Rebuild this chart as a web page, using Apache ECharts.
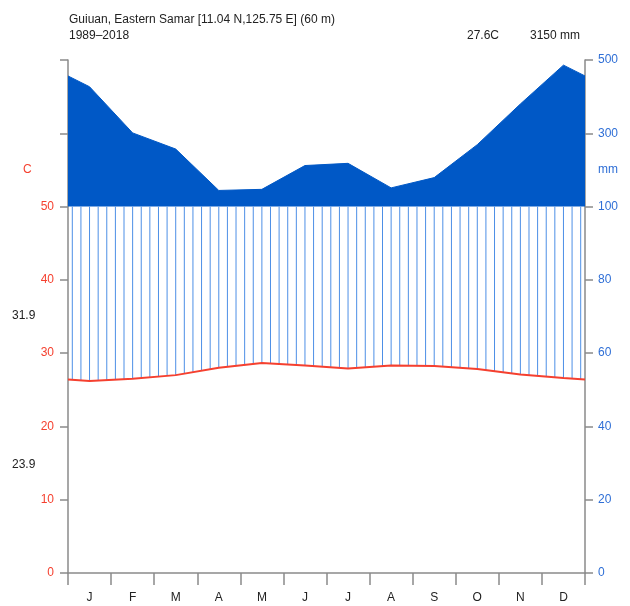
<!DOCTYPE html>
<html>
<head>
<meta charset="utf-8">
<script src="https://cdn.jsdelivr.net/npm/echarts@6/dist/echarts.min.js"></script>
<style>
html,body{margin:0;padding:0;background:#fff;}
#chart{width:630px;height:606px;}
</style>
</head>
<body>
<div id="chart"></div>
<script>
// ---- data ----
const months = ['J','F','M','A','M','J','J','A','S','O','N','D'];
const tempC = [26.2, 26.5, 27.0, 28.0, 28.65, 28.3, 27.9, 28.3, 28.25, 27.85, 27.1, 26.6];
const precipMm = [427, 301, 257, 144, 147, 212, 218, 151, 179, 269, 380, 486];
const tempTicks = [0, 10, 20, 30, 40, 50];
const precipTicks = [0, 20, 40, 60, 80, 100, 300, 500];
const titleLine1 = 'Guiuan, Eastern Samar [11.04 N,125.75 E] (60 m)';
const titleLine2 = '1989\u20132018';
const meanTempLabel = '27.6C';
const totalPrecipLabel = '3150 mm';
const maxWarmLabel = '31.9';
const minColdLabel = '23.9';

// ---- Walter-Lieth scale: 10 C = 20 mm up to 100 mm, then 200 mm per 10 units ----
function precipToAxis(p){ return p <= 100 ? p / 2 : 50 + (p - 100) / 20; }
const axisToPrecip = {};
precipTicks.forEach(p => { axisToPrecip[precipToAxis(p)] = p; });

// month positions: centers at 0.5 .. 11.5, edges 0 and 12 closed with mean of Dec & Jan
const edgeT = (tempC[0] + tempC[11]) / 2;
const edgeP = (precipMm[0] + precipMm[11]) / 2;
const tempSeries = [[0, edgeT]].concat(tempC.map((t, i) => [i + 0.5, t]), [[12, edgeT]]);
const precSeries = [[0, precipToAxis(edgeP)]].concat(precipMm.map((p, i) => [i + 0.5, precipToAxis(p)]), [[12, precipToAxis(edgeP)]]);

// hatch positions (decorative vertical lines of the humid period)
const hatchX = [];
for (let k = 0; k < 60; k++) hatchX.push(0.1 + 0.2 * k);
function tempAt(x){
  for (let i = 0; i < tempSeries.length - 1; i++) {
    const a = tempSeries[i], b = tempSeries[i + 1];
    if (x >= a[0] && x <= b[0]) return a[1] + (b[1] - a[1]) * (x - a[0]) / (b[0] - a[0]);
  }
  return edgeT;
}

const RED = '#F5402F', BLUE_LBL = '#2F6FD6', FILL = '#0058C6', HATCH = '#4d8fe6', AX = '#8a8a8a';
const FONT = 'Liberation Sans, Arial, sans-serif';

const chart = echarts.init(document.getElementById('chart'));
chart.setOption({
  animation: false,
  backgroundColor: '#ffffff',
  grid: {left: 68, right: 45, top: 60, bottom: 33},
  xAxis: [
    {type: 'value', min: 0, max: 12, interval: 1,
     axisLine: {show: true, onZero: false, lineStyle: {color: AX, width: 1.5}},
     axisTick: {show: true, length: 12, lineStyle: {color: AX, width: 1.5}},
     axisLabel: {show: false}, splitLine: {show: false}},
    {type: 'category', data: months, boundaryGap: true, position: 'bottom',
     axisLine: {show: false}, axisTick: {show: false}, splitLine: {show: false},
     axisLabel: {show: true, margin: 19, color: '#222', fontSize: 12, fontFamily: FONT}}
  ],
  yAxis: [
    {type: 'value', position: 'left', min: 0, max: 70, interval: 10,
     axisLine: {show: true, onZero: false, lineStyle: {color: AX, width: 1.5}},
     axisTick: {show: true, length: 8, lineStyle: {color: AX, width: 1.5}},
     splitLine: {show: false},
     axisLabel: {margin: 14, color: RED, fontSize: 12, fontFamily: FONT,
       formatter: v => (tempTicks.indexOf(v) >= 0 ? String(v) : '')}},
    {type: 'value', position: 'right', min: 0, max: 70, interval: 10,
     axisLine: {show: true, onZero: false, lineStyle: {color: AX, width: 1.5}},
     axisTick: {show: true, length: 8, lineStyle: {color: AX, width: 1.5}},
     splitLine: {show: false},
     axisLabel: {margin: 13, color: BLUE_LBL, fontSize: 12, fontFamily: FONT,
       formatter: v => (axisToPrecip[v] !== undefined ? String(axisToPrecip[v]) : '')}}
  ],
  series: [
    {type: 'line', name: 'precip', xAxisIndex: 0, yAxisIndex: 0, data: precSeries,
     symbol: 'none', z: 2,
     lineStyle: {color: FILL, width: 1},
     areaStyle: {color: FILL, opacity: 1, origin: 50}},
    {type: 'custom', name: 'hatch', xAxisIndex: 0, yAxisIndex: 0, z: 3,
     data: hatchX.map(x => [x]),
     renderItem: function(params, api){
       const x = api.value(0);
       const p1 = api.coord([x, 50]);
       const p2 = api.coord([x, tempAt(x)]);
       return {type: 'line', shape: {x1: p1[0], y1: p1[1], x2: p2[0], y2: p2[1]},
               style: {stroke: HATCH, lineWidth: 1}};
     }},
    {type: 'line', name: 'temp', xAxisIndex: 0, yAxisIndex: 0, data: tempSeries,
     symbol: 'none', z: 4, lineStyle: {color: RED, width: 2}}
  ],
  graphic: [
    {type: 'text', x: 69, y: 20, style: {text: titleLine1, fill: '#222', font: '12px ' + FONT, textVerticalAlign: 'middle'}},
    {type: 'text', x: 69, y: 36, style: {text: titleLine2, fill: '#222', font: '12px ' + FONT, textVerticalAlign: 'middle'}},
    {type: 'text', x: 467, y: 36, style: {text: meanTempLabel, fill: '#222', font: '12px ' + FONT, textVerticalAlign: 'middle'}},
    {type: 'text', x: 530, y: 36, style: {text: totalPrecipLabel, fill: '#222', font: '12px ' + FONT, textVerticalAlign: 'middle'}},
    {type: 'text', x: 23, y: 170, style: {text: 'C', fill: RED, font: '12px ' + FONT, textVerticalAlign: 'middle'}},
    {type: 'text', x: 598, y: 170, style: {text: 'mm', fill: BLUE_LBL, font: '12px ' + FONT, textVerticalAlign: 'middle'}},
    {type: 'text', x: 12, y: 316, style: {text: maxWarmLabel, fill: '#222', font: '12px ' + FONT, textVerticalAlign: 'middle'}},
    {type: 'text', x: 12, y: 465, style: {text: minColdLabel, fill: '#222', font: '12px ' + FONT, textVerticalAlign: 'middle'}}
  ]
});
</script>
</body>
</html>
